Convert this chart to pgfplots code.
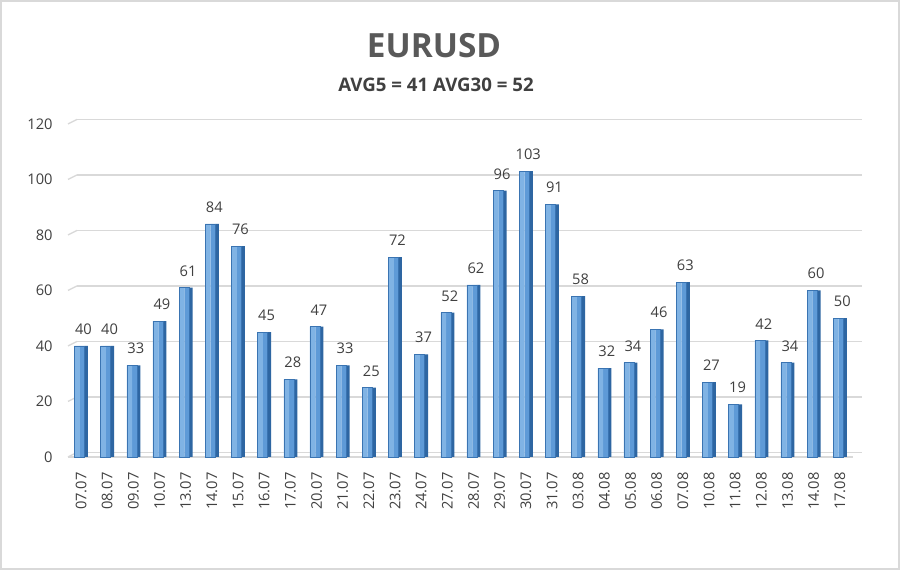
\documentclass[border=0pt]{standalone}
\usepackage{fontspec}
\setmainfont{Open Sans}
\usepackage{pgfplots}
\pgfplotsset{compat=1.18}
\definecolor{txt}{HTML}{404040}
\definecolor{ttl}{HTML}{595959}
\definecolor{grd}{HTML}{D9D9D9}
\definecolor{barL}{HTML}{80B3E4}
\definecolor{barR}{HTML}{5E9AD7}
\definecolor{barS}{HTML}{2E66A2}
\definecolor{barE}{HTML}{3A74B2}
\pgfplotstableread{
x y
0 40
1 40
2 33
3 49
4 61
5 84
6 76
7 45
8 28
9 47
10 33
11 25
12 72
13 37
14 52
15 62
16 96
17 103
18 91
19 58
20 32
21 34
22 46
23 63
24 27
25 19
26 42
27 34
28 60
29 50
}\datatable
\begin{document}
\begin{tikzpicture}
\path[fill=white, draw=grd, line width=1.5pt] (0.75pt,0.75pt) rectangle (674.25pt,426.75pt);
\node[font=\bfseries\fontsize{25}{30}\selectfont, text=ttl] at (325.5pt,393.4pt) {EURUSD};
\node[font=\bfseries\fontsize{14}{17}\selectfont, text=txt] at (327pt,363.75pt) {AVG5 = 41 AVG30 = 52};
\begin{axis}[at={(51pt,84.75pt)}, anchor=south west, scale only axis,
  width=588.75pt, height=249.75pt,
  xmin=-0.5, xmax=29.5, ymin=0, ymax=120, ytick={0,20,...,120},
  xtick={0,...,29},
  xticklabels={07.07,08.07,09.07,10.07,13.07,14.07,15.07,16.07,17.07,20.07,21.07,22.07,23.07,24.07,27.07,28.07,29.07,30.07,31.07,03.08,04.08,05.08,06.08,07.08,10.08,11.08,12.08,13.08,14.08,17.08},
  axis line style={draw=none}, major tick length=0pt,
  tick label style={font=\fontsize{11}{13}\selectfont, text=txt},
  /pgf/number format/assume math mode=true,
  xticklabel style={rotate=90, anchor=east},
  xticklabel shift=8pt, yticklabel shift=8pt,
  ymajorgrids, major grid style={draw=grd, line width=1pt, xshift=6.75pt, yshift=3.4pt},
  clip=false,
]
\pgfplotsinvokeforeach{0,20,40,60,80,100,120}{
  \draw[grd, line width=1pt] (axis cs:-0.5,#1) -- ++(6.75pt,3.4pt);
}
\draw[grd, line width=1.2pt] (axis cs:-0.5,0) -- (axis cs:29.5,0);
% side face
\addplot[ybar, bar width=2.6pt, bar shift=3.85pt, fill=barS, draw=none, forget plot]
  table[x=x, y=y] {\datatable};
% front face, right part
\addplot[ybar, bar width=3.5pt, bar shift=0.75pt, fill=barR, draw=none, forget plot]
  table[x=x, y=y] {\datatable};
% front face, left part with labels
\addplot[ybar, bar width=4pt, bar shift=-2.95pt, fill=barL, draw=none,
  nodes near coords,
  nodes near coords style={font=\fontsize{11}{13}\selectfont, text=txt, yshift=5pt, xshift=1.75pt},
  /pgf/number format/assume math mode=true]
  table[x=x, y=y] {\datatable};
% outline of front face
\addplot[ybar, bar width=7.5pt, bar shift=-1.2pt, draw=barE, line width=0.4pt, fill=none, forget plot]
  table[x=x, y=y] {\datatable};
\end{axis}
\end{tikzpicture}
\end{document}
